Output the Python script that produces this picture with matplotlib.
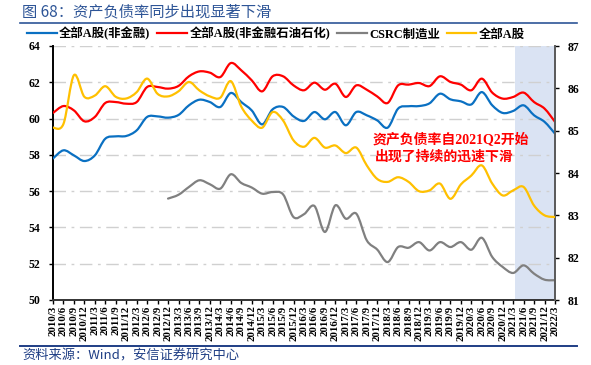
import numpy as np
import matplotlib
matplotlib.use("Agg")
import matplotlib.pyplot as plt
from matplotlib.path import Path
from matplotlib.patches import PathPatch
from matplotlib.lines import Line2D

# quarterly labels 2010/3 .. 2022/3
quarters = [f"{y}/{m}" for y in range(2010, 2023) for m in (3, 6, 9, 12)][:49]

# 全部A股(非金融), left axis
nonfin = [57.8, 58.25, 57.97, 57.66, 57.97, 58.89, 59.02, 59.04, 59.35, 60.09, 60.12, 60.05,
          60.2, 60.73, 61.04, 60.91, 60.64, 61.41, 60.91, 60.45, 59.68, 60.51, 60.64, 60.12,
          59.87, 60.36, 59.96, 60.36, 59.63, 60.36, 60.18, 59.90, 59.50, 60.55, 60.68, 60.69,
          60.84, 61.37, 61.06, 60.95, 60.78, 61.46, 60.73, 60.31, 60.42, 60.73, 60.18, 59.82,
          59.17]
# 全部A股(非金融石油石化), left axis
nonfin_ex_oil = [60.31, 60.69, 60.45, 59.85, 60.09, 60.86, 60.91, 60.82, 60.91, 61.74, 61.74, 61.65,
                 61.8, 62.33, 62.60, 62.53, 62.29, 63.06, 62.66, 62.11, 61.50, 62.33, 62.33, 61.83,
                 61.56, 61.98, 61.59, 61.92, 61.19, 61.83, 61.59, 61.22, 60.86, 61.83, 61.87, 61.96,
                 61.79, 62.33, 62.02, 61.87, 61.56, 62.20, 61.43, 61.10, 61.19, 61.43, 60.91, 60.55,
                 59.82]
# CSRC制造业, left axis (starts 2012/12)
csrc_mfg = [np.nan] * 11 + [55.59,
            55.8, 56.23, 56.60, 56.38, 56.14, 56.93, 56.45, 56.20, 55.86, 55.95, 55.82, 54.57,
            54.73, 55.18, 53.75, 55.22, 54.48, 54.76, 53.29, 52.78, 52.09, 52.92, 52.88, 53.19,
            52.73, 53.19, 52.92, 53.19, 52.77, 53.43, 52.37, 51.82, 51.49, 51.91, 51.45, 51.12,
            51.09]
# 全部A股, right axis
all_a = [85.07, 85.16, 86.31, 85.80, 85.83, 86.05, 85.80, 85.76, 85.91, 86.23, 85.87, 85.81,
         85.93, 86.15, 85.95, 85.81, 85.78, 86.17, 85.57, 85.24, 85.07, 85.44, 85.24, 84.77,
         84.62, 84.83, 84.60, 84.65, 84.47, 84.60, 84.18, 83.86, 83.79, 83.90, 83.79, 83.57,
         83.59, 83.75, 83.39, 83.73, 83.94, 84.18, 83.75, 83.47, 83.59, 83.67, 83.23, 83.00,
         82.96]

names = ["全部A股(非金融)", "全部A股(非金融石油石化)", "CSRC制造业", "全部A股"]
colors = ["#0A70C2", "#FF0000", "#808080", "#FFC000"]

SERIF = ["Liberation Serif", "Noto Sans CJK SC"]
plt.rcParams["font.family"] = SERIF


def smooth_path(x, y):
    # Excel-style smoothed line: cubic bezier through every data point
    x = np.asarray(x, float)
    y = np.asarray(y, float)
    ok = ~np.isnan(y)
    pts = np.column_stack([x[ok], y[ok]])
    n = len(pts)
    verts = [pts[0]]
    codes = [Path.MOVETO]
    for i in range(n - 1):
        p0 = pts[max(i - 1, 0)]
        p1 = pts[i]
        p2 = pts[i + 1]
        p3 = pts[min(i + 2, n - 1)]
        verts += [p1 + (p2 - p0) / 6, p2 - (p3 - p1) / 6, p2]
        codes += [Path.CURVE4] * 3
    return Path(verts, codes)


fig = plt.figure(figsize=(5.91, 3.65), dpi=100)
ax = fig.add_axes([53 / 591, 1 - 300 / 365, 502 / 591, 254 / 365])
ax2 = ax.twinx()

xs = np.arange(len(quarters))
ax.axvspan(44.2, len(quarters) - 1, color="#DAE3F3", zorder=0, lw=0)

for data, c in zip([nonfin, nonfin_ex_oil, csrc_mfg], colors[:3]):
    ax.add_patch(PathPatch(smooth_path(xs, data), fill=False, edgecolor=c, lw=1.6,
                           capstyle="round", joinstyle="round", zorder=3))
ax2.add_patch(PathPatch(smooth_path(xs, all_a), fill=False, edgecolor=colors[3], lw=1.6,
                        capstyle="round", joinstyle="round", zorder=3))

ax.set_xlim(0, len(quarters) - 1)
ax.set_ylim(50, 64)
ax2.set_ylim(81, 87)
ax.set_yticks(range(50, 65, 2))
ax2.set_yticks(range(81, 88))
ax.set_xticks(xs)
ax.set_xticklabels(quarters, rotation=90, fontsize=7.8, fontweight="bold")
for lab in ax.get_yticklabels() + ax2.get_yticklabels():
    lab.set_fontweight("bold")
    lab.set_fontsize(8.5)

ax.yaxis.grid(True, color="#D0D0D0", lw=1, linestyle=(0, (9, 4, 2, 4)))
ax.set_axisbelow(True)
ax.tick_params(axis="x", length=3, pad=1, width=1)
ax.tick_params(axis="y", length=3, pad=6, width=1)
ax2.tick_params(axis="y", length=3, pad=6, width=1)

for a in (ax, ax2):
    a.spines["top"].set_visible(False)
ax.spines["right"].set_visible(False)
ax.spines["left"].set_linewidth(1.4)
ax.spines["bottom"].set_linewidth(1.4)
ax.spines["bottom"].set_color("#333333")
ax2.spines["left"].set_visible(False)
ax2.spines["bottom"].set_visible(False)
ax2.spines["right"].set_linewidth(1.4)
ax2.spines["right"].set_color("#595959")

ax.text(0.637, 0.63, "资产负债率自2021Q2开始", transform=ax.transAxes, color="#FF0000",
        fontsize=10, fontweight="bold", va="center", ha="left", zorder=5)
ax.text(0.641, 0.563, "出现了持续的迅速下滑", transform=ax.transAxes, color="#FF0000",
        fontsize=10, fontweight="bold", va="center", ha="left", zorder=5)

handles = [Line2D([], [], color=c, lw=1.6) for c in colors]
fig.legend(handles, names, loc="center left", bbox_to_anchor=(27 / 591, 1 - 34 / 365),
           ncol=4, frameon=False, handlelength=2.4, handletextpad=0.2, columnspacing=0.55,
           borderpad=0, borderaxespad=0, prop={"family": SERIF, "weight": "bold", "size": 8.9})

fig.text(22 / 591, 1 - 12 / 365, "图 68：资产负债率同步出现显著下滑", color="#2E5597",
         fontsize=11, family=["Noto Sans CJK SC", "DejaVu Sans"], va="center", ha="left")
fig.add_artist(Line2D([20 / 591, 577 / 591], [1 - 22.5 / 365] * 2, color="#2E5597", lw=1.2))
fig.add_artist(Line2D([20 / 591, 577 / 591], [1 - 346 / 365] * 2, color="#1F3E85", lw=1.4))
fig.text(22 / 591, 1 - 356 / 365, "资料来源：Wind，安信证券研究中心", color="#1F3E85",
         fontsize=9.5, style="italic", family=["Noto Sans CJK SC", "DejaVu Sans"],
         va="center", ha="left")

fig.savefig("out.png", dpi=100)
